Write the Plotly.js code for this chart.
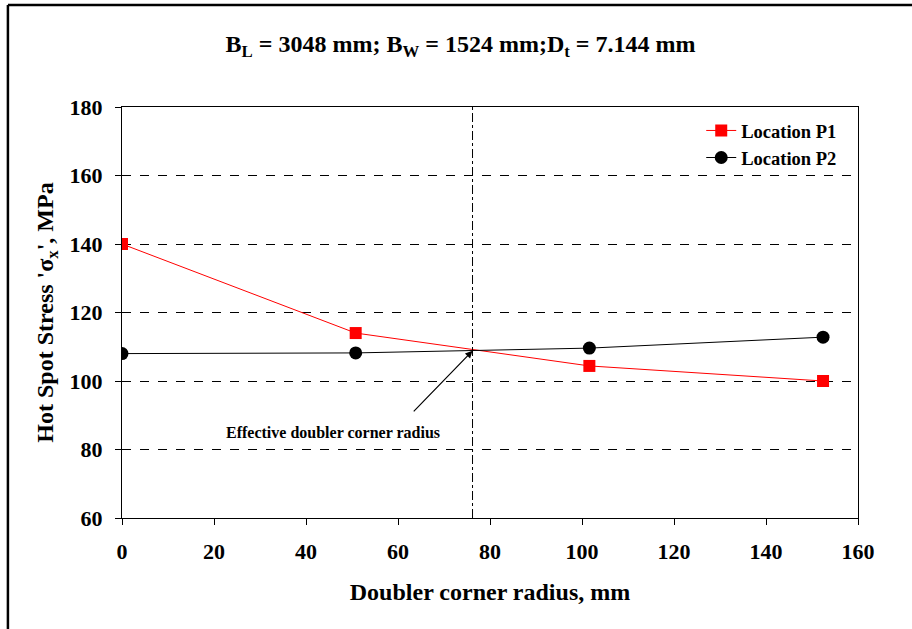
<!DOCTYPE html>
<html>
<head>
<meta charset="utf-8">
<script src="https://cdn.plot.ly/plotly-3.0.1.min.js"></script>
<style>
  html, body { margin: 0; padding: 0; background: #fff; }
  #chart { width: 912px; height: 629px; }
</style>
</head>
<body>
<div id="chart"></div>
<script>
// Doubler corner radius (mm)
const radius = [0, 50.8, 101.6, 152.4];
// Hot spot stress at the two locations (MPa)
const stressP1 = [140, 114, 104.4, 100];
const stressP2 = [108, 108.2, 109.6, 112.8];
const seriesNames = ['Location P1', 'Location P2'];
// Effective doubler corner radius and the point the arrow marks
const effectiveRadius = 76.2;
const crossingStress = 108.8;
const arrowTail = [63.1, 90.7];
const noteText = 'Effective doubler corner radius';
const noteAt = [45.9, 85.1];

const serif = 'Liberation Serif, Times New Roman, serif';
const tickFont = { family: serif, size: 22, color: '#000', weight: 'bold' };

const traces = [
  {
    x: radius, y: stressP1, name: seriesNames[0], type: 'scatter', mode: 'lines+markers',
    line: { color: '#ff0000', width: 1 },
    marker: { symbol: 'square', size: 12, color: '#ff0000' }
  },
  {
    x: radius, y: stressP2, name: seriesNames[1], type: 'scatter', mode: 'lines+markers',
    line: { color: '#000000', width: 1 },
    marker: { symbol: 'circle', size: 13, color: '#000000' }
  }
];

const layout = {
  width: 912, height: 629,
  margin: { l: 122, r: 54, t: 107, b: 111 },
  paper_bgcolor: '#fff', plot_bgcolor: '#fff',
  showlegend: true,
  title: {
    text: '<b>B<sub>L</sub> = 3048 mm; B<sub>W</sub> = 1524 mm;D<sub>t</sub> = 7.144 mm</b>',
    font: { family: serif, size: 24, color: '#000' },
    x: 0.505, xanchor: 'center', y: 0.93, yanchor: 'middle'
  },
  xaxis: {
    range: [0, 160], dtick: 20, tick0: 0,
    showgrid: false, zeroline: false,
    showline: true, linecolor: '#000', linewidth: 1, mirror: true,
    ticks: 'outside', ticklen: 6, tickcolor: '#000',
    tickfont: tickFont, ticklabelstandoff: 8,
    title: { text: '<b>Doubler corner radius, mm</b>',
             font: { family: serif, size: 24, color: '#000' }, standoff: 19 }
  },
  yaxis: {
    range: [60, 180], dtick: 20, tick0: 60,
    showgrid: true, gridcolor: '#000', gridwidth: 1, griddash: 'dash',
    zeroline: false,
    showline: true, linecolor: '#000', linewidth: 1, mirror: true,
    ticks: 'outside', ticklen: 6, tickcolor: '#000',
    tickfont: tickFont, ticklabelstandoff: 8,
    title: { text: "<b>Hot Spot Stress 'σ<sub>x</sub>', MPa</b>",
             font: { family: serif, size: 24, color: '#000' }, standoff: 9 }
  },
  legend: {
    x: 0.787, y: 0.988, xanchor: 'left', yanchor: 'top',
    bgcolor: 'rgba(255,255,255,0)', borderwidth: 0,
    font: { family: serif, size: 18.5, color: '#000', weight: 'bold' },
    tracegroupgap: 0
  },
  shapes: [
    // dash-dot marker at the effective radius
    { type: 'line', xref: 'x', yref: 'paper', x0: effectiveRadius, x1: effectiveRadius, y0: 0, y1: 1,
      line: { color: '#000', width: 1, dash: 'dashdot' } },
    // outer frame round the figure
    { type: 'line', xref: 'paper', yref: 'paper', x0: -0.155, x1: 1.2, y0: 1.2482, y1: 1.2482,
      line: { color: '#000', width: 2.5 } },
    { type: 'line', xref: 'paper', yref: 'paper', x0: -0.155, x1: -0.155, y0: 1.2482, y1: -0.4,
      line: { color: '#000', width: 2.5 } }
  ],
  annotations: [
    { x: effectiveRadius, y: crossingStress, xref: 'x', yref: 'y',
      ax: arrowTail[0], ay: arrowTail[1], axref: 'x', ayref: 'y',
      showarrow: true, arrowhead: 2, arrowsize: 1.2, arrowwidth: 1.2, arrowcolor: '#000', text: '' },
    { x: noteAt[0], y: noteAt[1], xref: 'x', yref: 'y', showarrow: false,
      text: '<b>' + noteText + '</b>',
      font: { family: serif, size: 16, color: '#000' } }
  ]
};

Plotly.newPlot('chart', traces, layout, { displayModeBar: false, staticPlot: true });
</script>
</body>
</html>
